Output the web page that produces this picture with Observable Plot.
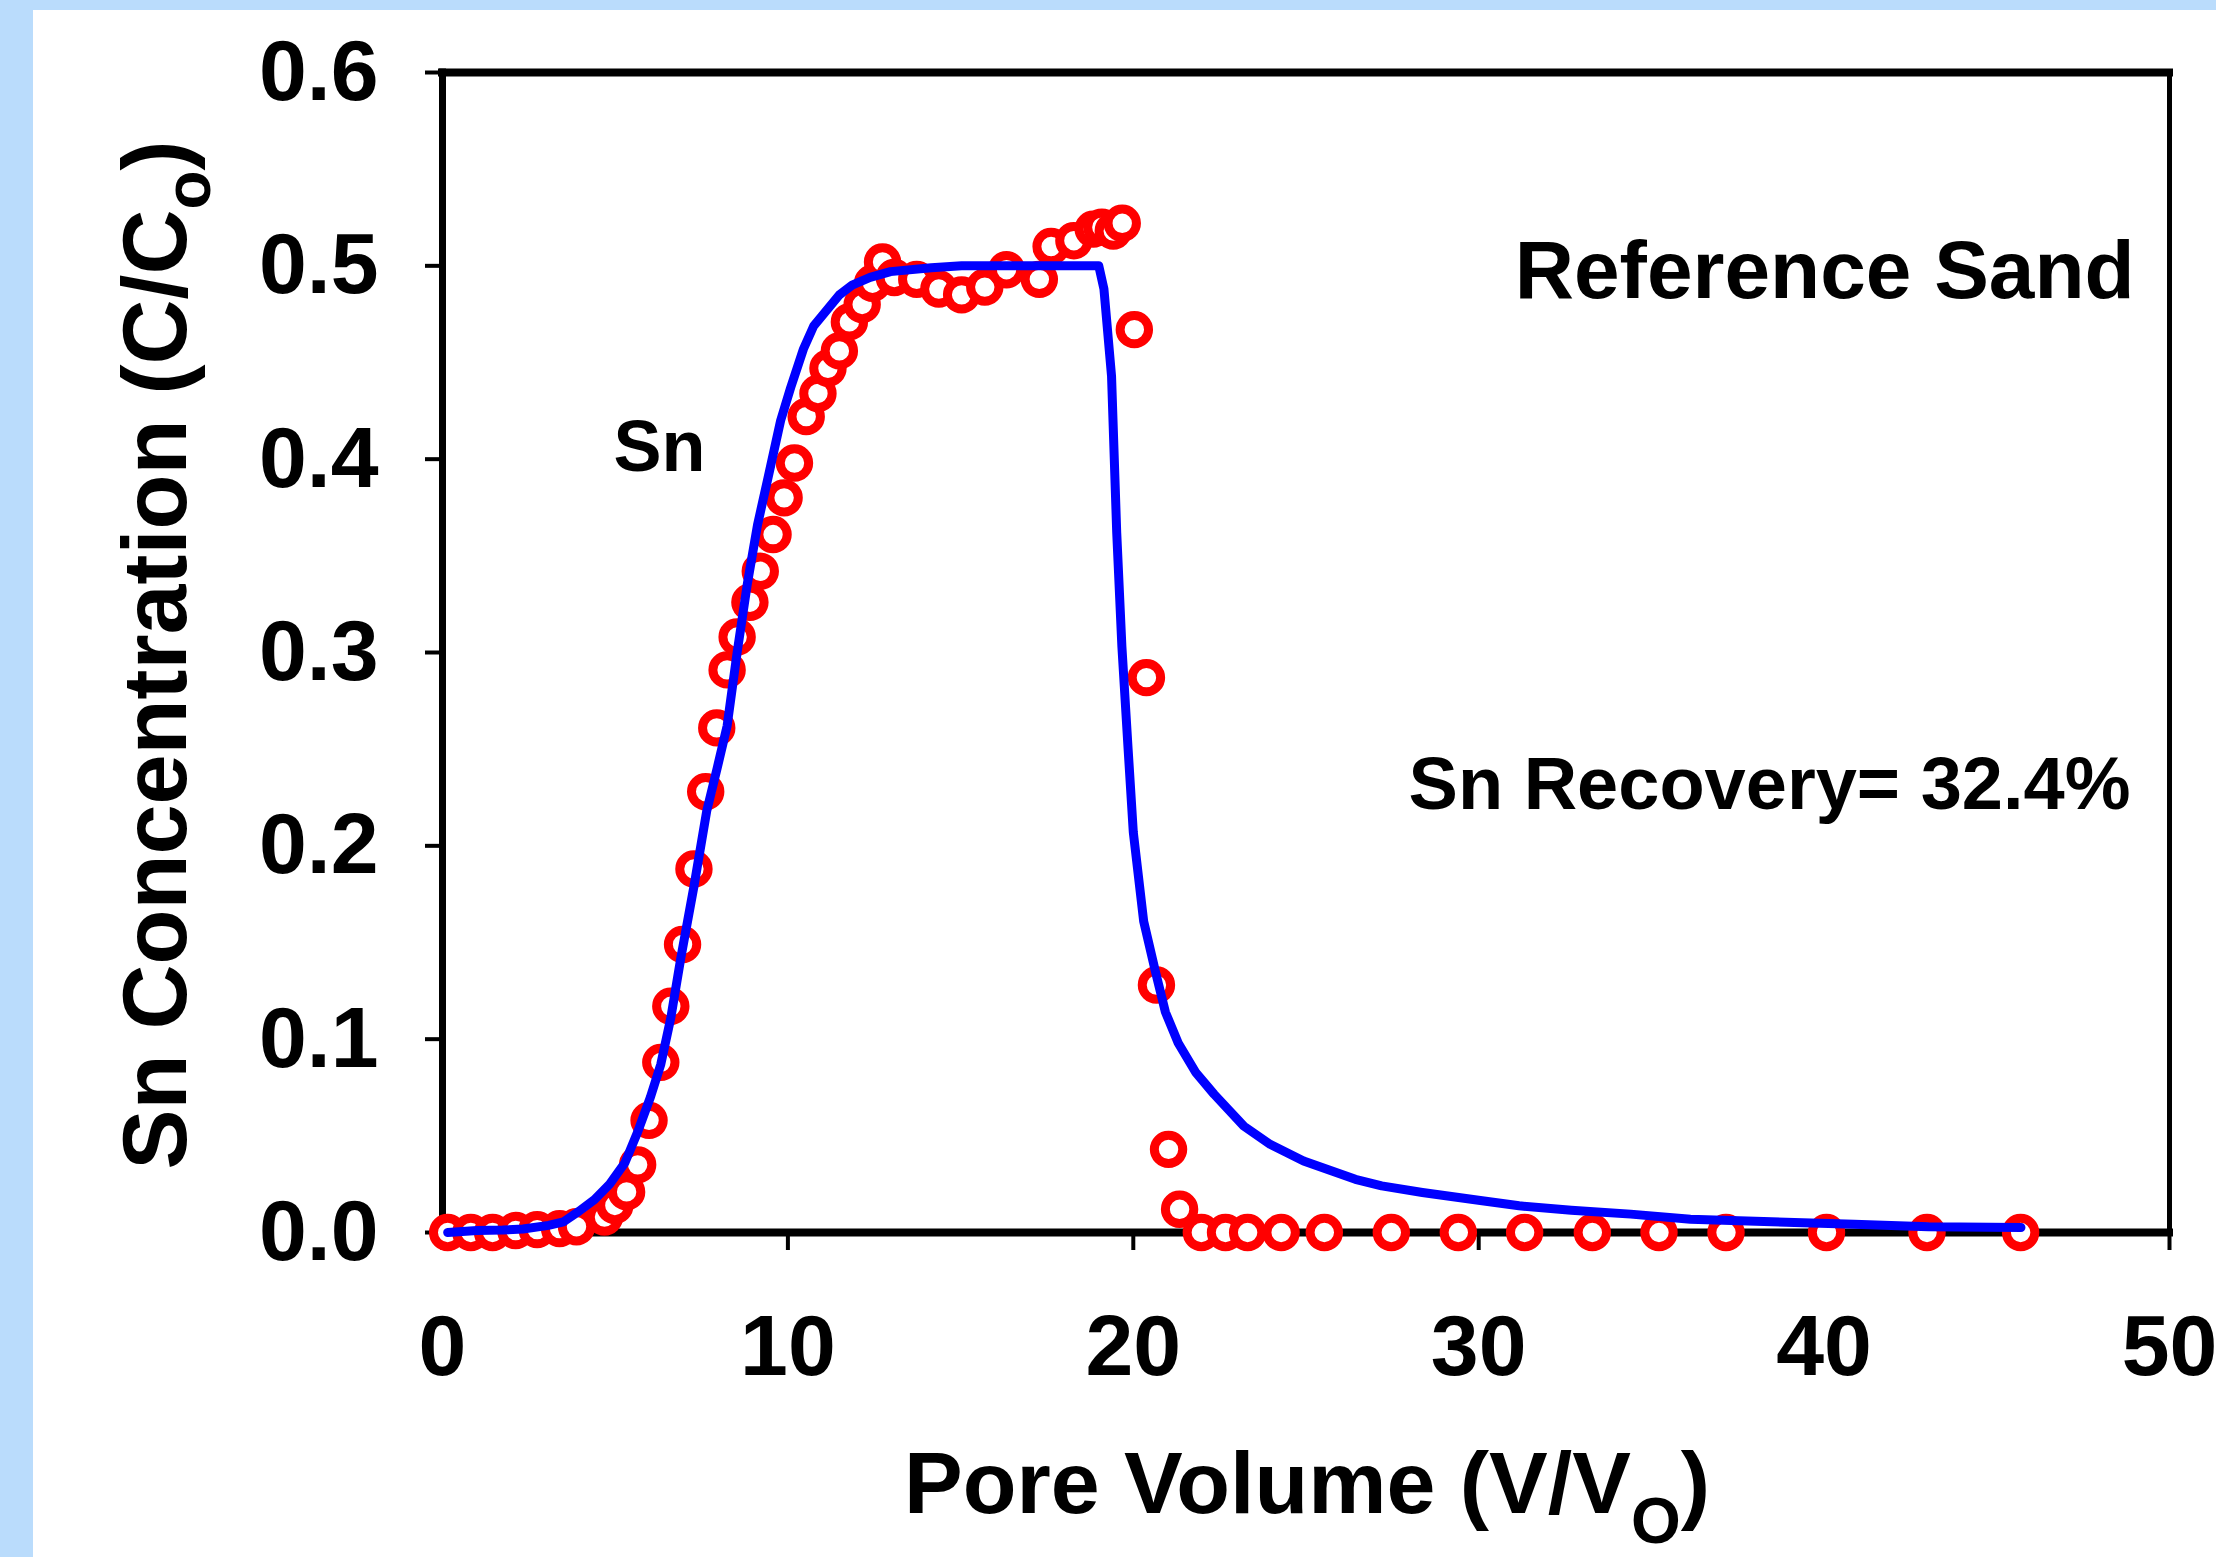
<!DOCTYPE html>
<html>
<head>
<meta charset="utf-8">
<script src="https://cdn.jsdelivr.net/npm/d3@7"></script>
<script src="https://cdn.jsdelivr.net/npm/@observablehq/plot@0.6"></script>
<style>
  html, body { margin: 0; padding: 0; overflow: hidden; background: #BADCFC; }
  #wrap { position: relative; width: 2216px; height: 1557px; }
  #panel { position: absolute; left: 33px; top: 10px; right: 0; bottom: 0; background: #ffffff; }
  #chart { position: absolute; left: 0; top: 0; }
</style>
</head>
<body>
<div id="wrap"><div id="panel"></div><div id="chart"></div></div>
<script>
// ---- Data ----
const xTicks = [0, 10, 20, 30, 40, 50];
const yTicks = [0, 0.1, 0.2, 0.3, 0.4, 0.5, 0.6];

// Measured Sn concentrations (open red circles)
const obsX = [0.15, 0.82, 1.45, 2.12, 2.74, 3.39, 3.88, 4.69, 4.99, 5.33, 5.65, 5.98, 6.32, 6.61, 6.95, 7.28, 7.62, 7.94,
  8.24, 8.53, 8.9, 9.2, 9.57, 9.89, 10.19, 10.53, 10.87, 11.16, 11.49, 11.78, 12.15, 12.45, 12.74, 13.08, 13.73, 14.37,
  15.03, 15.7, 16.33, 17.28, 17.62, 18.28, 18.84, 19.09, 19.42, 19.68, 20.03, 20.38, 20.67, 21.02, 21.34, 21.97, 22.67,
  23.31, 24.28, 25.53, 27.47, 29.41, 31.33, 33.29, 35.22, 37.16, 40.07, 42.98, 45.69];
const obsY = [0, 0, 0, 0.001, 0.0015, 0.002, 0.003, 0.008, 0.014, 0.021, 0.035, 0.058, 0.088, 0.117, 0.149, 0.188, 0.228, 0.261,
  0.291, 0.308, 0.326, 0.342, 0.361, 0.380, 0.398, 0.422, 0.434, 0.447, 0.456, 0.471, 0.480, 0.491, 0.502, 0.494, 0.493, 0.488,
  0.485, 0.489, 0.498, 0.493, 0.510, 0.513, 0.519, 0.520, 0.518, 0.522, 0.467, 0.287, 0.128, 0.043, 0.012, 0, 0,
  0, 0, 0, 0, 0, 0, 0, 0, 0, 0, 0, 0];

// Model curve (blue line)
const modX = [0.15, 1.0, 1.74, 2.33, 3.07, 3.5, 3.95, 4.4, 4.84, 5.28, 5.65, 6.02, 6.32, 6.61, 6.9, 7.28, 7.65, 7.95, 8.24, 8.53,
  8.83, 9.12, 9.42, 9.79, 10.08, 10.45, 10.75, 11.12, 11.49, 11.86, 12.38, 12.97, 14.15, 15.03, 16.0, 17.0, 18.0, 19.0, 19.15,
  19.37, 19.52, 19.67, 19.85, 20.0, 20.3, 20.64, 20.93, 21.3, 21.8, 22.34, 23.2, 23.96, 24.93, 26.43, 27.19, 28.37, 30.1,
  31.17, 32.68, 34.4, 36.13, 39.14, 40.87, 43.02, 45.7];
const modY = [0, 0.001, 0.0013, 0.0018, 0.0037, 0.0055, 0.011, 0.017, 0.025, 0.036, 0.052, 0.070, 0.087, 0.111, 0.142, 0.179,
  0.218, 0.240, 0.262, 0.300, 0.336, 0.366, 0.390, 0.420, 0.437, 0.457, 0.469, 0.477, 0.485, 0.490, 0.494, 0.497, 0.499, 0.500,
  0.500, 0.500, 0.500, 0.500, 0.488, 0.443, 0.362, 0.303, 0.250, 0.207, 0.161, 0.135, 0.114, 0.098, 0.083, 0.0715, 0.055,
  0.0456, 0.037, 0.0275, 0.0241, 0.0207, 0.0164, 0.0138, 0.0115, 0.0095, 0.0069, 0.0052, 0.0043, 0.003, 0.0026];

// Annotation texts (positioned in data units)
const titleNote = [{x: 48.99, y: 0.4836, label: "Reference Sand"}];
const recoveryNote = [{x: 48.87, y: 0.2188, label: "Sn Recovery= 32.4%"}];
const seriesNote = [{x: 4.95, y: 0.394, label: "Sn"}];

const obs = obsX.map((x, i) => ({x, y: obsY[i]}));
const model = modX.map((x, i) => ({x, y: modY[i]}));

const FONT = "'Liberation Sans', Arial, Helvetica, sans-serif";

const chart = Plot.plot({
  width: 2216,
  height: 1557,
  marginLeft: 442,
  marginRight: 47,
  marginTop: 72,
  marginBottom: 325,
  style: {fontFamily: FONT, background: "transparent", overflow: "visible"},
  x: {domain: [0, 50]},
  y: {domain: [0, 0.6]},
  marks: [
    Plot.axisX({ticks: xTicks, tickSize: 18, tickPadding: 63, tickFormat: d => String(d), fontSize: 86,
      fontWeight: "bold", strokeWidth: 4, label: null, fill: "black", stroke: "black"}),
    Plot.axisY({ticks: yTicks, tickSize: 17, tickPadding: 47, tickFormat: d3.format(".1f"), fontSize: 86,
      fontWeight: "bold", strokeWidth: 4, label: null, fill: "black", stroke: "black"}),
    Plot.ruleY([0.6], {stroke: "black", strokeWidth: 8, strokeLinecap: "square"}),
    Plot.ruleX([50], {stroke: "black", strokeWidth: 5, strokeLinecap: "square"}),
    Plot.ruleX([0], {stroke: "black", strokeWidth: 7, strokeLinecap: "square"}),
    Plot.ruleY([0], {stroke: "black", strokeWidth: 8, strokeLinecap: "square"}),
    Plot.dot(obs, {x: "x", y: "y", r: 14.2, stroke: "#FF0000", strokeWidth: 9, fill: "white"}),
    Plot.line(model, {x: "x", y: "y", stroke: "#0000FF", strokeWidth: 9, strokeLinejoin: "round"}),
    Plot.text(titleNote, {x: "x", y: "y", text: "label", textAnchor: "end", lineAnchor: "bottom",
      fontSize: 82, fontWeight: "bold", fill: "black"}),
    Plot.text(recoveryNote, {x: "x", y: "y", text: "label", textAnchor: "end", lineAnchor: "bottom",
      fontSize: 74, fontWeight: "bold", fill: "black"}),
    Plot.text(seriesNote, {x: "x", y: "y", text: "label", textAnchor: "start", lineAnchor: "bottom",
      fontSize: 72, fontWeight: "bold", fill: "black"})
  ]
});

document.getElementById("chart").appendChild(chart);

// Axis titles with subscripts
const svg = d3.select(chart);
const xt = svg.append("text")
  .attr("x", 1307).attr("y", 1513)
  .attr("text-anchor", "middle")
  .attr("font-family", FONT).attr("font-weight", "bold").attr("font-size", 88).attr("fill", "black");
xt.append("tspan").text("Pore Volume (V/V");
xt.append("tspan").attr("font-size", 64).attr("dy", 30).text("O");
xt.append("tspan").attr("dy", -30).text(")");

const yt = svg.append("text")
  .attr("transform", "translate(186,655) rotate(-90)")
  .attr("text-anchor", "middle")
  .attr("font-family", FONT).attr("font-weight", "bold").attr("font-size", 90).attr("fill", "black");
yt.append("tspan").text("Sn Concentration (C/C");
yt.append("tspan").attr("font-size", 64).attr("dy", 24).text("o");
yt.append("tspan").attr("dy", -24).text(")");
</script>
</body>
</html>
